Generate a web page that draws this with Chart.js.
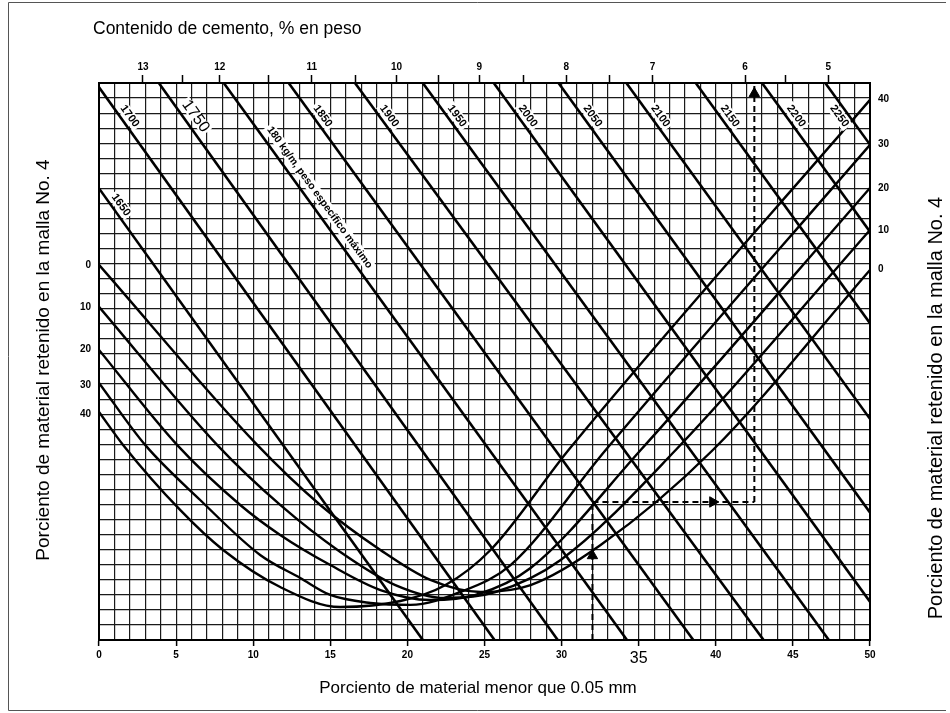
<!DOCTYPE html>
<html><head><meta charset="utf-8">
<script src="https://cdn.jsdelivr.net/npm/chart.js@4/dist/chart.umd.min.js"></script>
<style>
html,body{margin:0;padding:0;background:#fff;}
canvas{display:block;}
</style></head><body>
<canvas id="c" width="950" height="713"></canvas>
<script>
// ---------------- DATA ----------------
const xTickValues = [0,5,10,15,20,25,30,35,40,45,50];
const xTickLabels = ['0','5','10','15','20','25','30','35','40','45','50'];

const cementLabels    = ['13','12','11','10','9','8','7','6','5'];
const cementPositions = [2.85,7.83,13.8,19.3,24.66,30.3,35.9,41.9,47.3];
const cementMinorTicks = [5.44,11.0,16.63,22.0,27.5,33.1,44.5];

const retainedLabels = ['0','10','20','30','40'];
const retainedLeftY  = [24.9,22.1,19.3,16.9,15.0];
const retainedRightY = [24.6,27.2,30.0,32.9,35.9];

const densityLabels  = ['1650','1700','1750','180 kg/m, peso específico máximo','1850','1900','1950','2000','2050','2100','2150','2200','2250'];
const densityTopX    = [-4.9,-0.2,3.88,8.09,12.3,16.6,21.0,25.6,29.8,34.2,38.7,43.0,47.1];
const densityBottomX = [21.0,25.65,29.75,34.24,38.54,43.1,47.33,51.8,56.0,60.4,64.9,69.2,73.3];

const curveRet0  = [[0,24.92],[10.26,12.96],[14.35,8.97],[18.25,5.98],[21.49,3.99],[24.74,3.19],[27.99,3.65],[32.53,6.31],[39.81,12.62],[50,24.58]];
const curveRet10 = [[0,22.13],[7.66,12.96],[11.75,8.97],[15.65,5.85],[19.22,3.65],[22.47,2.79],[25.71,3.19],[29.94,5.32],[37.40,12.62],[50,27.24]];
const curveRet20 = [[0,19.27],[5.06,12.96],[9.16,8.97],[11.75,6.98],[15.0,4.98],[18.25,3.32],[21.49,2.66],[24.42,2.99],[27.99,4.78],[35.13,12.62],[50,30.03]];
const curveRet30 = [[0,17.08],[2.99,12.96],[6.56,9.30],[10.45,5.65],[13.05,4.12],[15.0,2.99],[17.6,2.46],[20.2,2.33],[23.44,3.19],[26.69,4.98],[32.86,12.62],[50,32.89]];
const curveRet40 = [[0,15.15],[1.56,12.96],[5.26,8.64],[8.05,5.98],[11.75,3.52],[15.65,2.19],[19.55,2.59],[22.47,3.65],[25.39,5.98],[30.45,12.62],[50,35.88]];

// example reading path (dashed with arrows)
const exampleUp    = [[32.0,0],[32.0,9.17]];
const exampleRight = [[32.0,9.17],[42.5,9.17]];
const exampleTop   = [[42.5,9.17],[42.5,37]];
const arrowUpPts   = [[32.0,5.6],[42.5,36.3]];
const arrowRightPts= [[39.8,9.17]];

const Y_MAX = 37;

// ---------------- BUILD ----------------
const toXY = a => a.map(p => ({x:p[0], y:p[1]}));
const datasets = [];
densityTopX.forEach((t,i) => {
  datasets.push({data:[{x:t,y:Y_MAX},{x:densityBottomX[i],y:0}], borderColor:'#000', borderWidth:2.6, pointRadius:0, showLine:true, yAxisID:'yg', xAxisID:'x'});
});
[curveRet0,curveRet10,curveRet20,curveRet30,curveRet40].forEach(c => {
  datasets.push({data:toXY(c), borderColor:'#000', borderWidth:2.4, pointRadius:0, showLine:true, cubicInterpolationMode:'monotone', yAxisID:'yg', xAxisID:'x'});
});
[exampleUp,exampleRight,exampleTop].forEach(c => {
  datasets.push({data:toXY(c), borderColor:'#000', borderWidth:2, borderDash:[6,4], pointRadius:0, showLine:true, yAxisID:'yg', xAxisID:'x'});
});
datasets.push({data:toXY(arrowUpPts), showLine:false, pointStyle:'triangle', pointRadius:6, pointRotation:0, backgroundColor:'#000', borderColor:'#000', yAxisID:'yg', xAxisID:'x'});
datasets.push({data:toXY(arrowRightPts), showLine:false, pointStyle:'triangle', pointRadius:6, pointRotation:90, backgroundColor:'#000', borderColor:'#000', yAxisID:'yg', xAxisID:'x'});

const FONT = "'Liberation Sans', Arial, sans-serif";

const decor = {
  id:'decor',
  afterDatasetsDraw(chart){
    const ctx = chart.ctx, xs = chart.scales.x, ys = chart.scales.yg;
    densityLabels.forEach((lab,i) => {
      let yv = 34.8, off = 10, font = 'bold 11px ' + FONT;
      if (i === 0) { yv = 28.9; }
      if (i === 2) { font = '16px ' + FONT; off = 13; }
      if (i === 3) { yv = 29.4; off = 13; font = 'bold 10.5px ' + FONT; }
      if (i === 12) { off = -10; }
      const t = densityTopX[i], b = densityBottomX[i];
      const xv = t + (Y_MAX - yv) * (b - t) / Y_MAX;
      const px = xs.getPixelForValue(xv) + off, py = ys.getPixelForValue(yv);
      const ang = Math.atan2(ys.getPixelForValue(0) - ys.getPixelForValue(Y_MAX), xs.getPixelForValue(b) - xs.getPixelForValue(t));
      ctx.save();
      ctx.translate(px, py); ctx.rotate(ang);
      ctx.font = font; ctx.textAlign = 'center'; ctx.textBaseline = 'middle';
      const w = ctx.measureText(lab).width;
      ctx.fillStyle = '#fff'; ctx.fillRect(-w/2 - 2, -6, w + 4, 12);
      ctx.fillStyle = '#000';
      ctx.fillText(lab, 0, 0);
      ctx.restore();
    });
  },
  afterDraw(chart){
    const ctx = chart.ctx;
    ctx.save();
    ctx.fillStyle = '#000';
    ctx.textBaseline = 'middle';
    ctx.textAlign = 'left';
    ctx.font = '17.5px ' + FONT;
    ctx.fillText('Contenido de cemento, % en peso', 93, 29);
    ctx.textAlign = 'center';
    ctx.font = '17px ' + FONT;
    ctx.fillText('Porciento de material menor que 0.05 mm', 478, 688);
    ctx.font = '19px ' + FONT;
    ctx.save(); ctx.translate(44, 360); ctx.rotate(-Math.PI/2);
    ctx.fillText('Porciento de material retenido en la malla No. 4', 0, 0);
    ctx.restore();
    ctx.font = '20px ' + FONT;
    ctx.save(); ctx.translate(936, 408); ctx.rotate(-Math.PI/2);
    ctx.fillText('Porciento de material retenido en la malla No. 4', 0, 0);
    ctx.restore();
    // outer frame (left, top, bottom)
    ctx.strokeStyle = '#555'; ctx.lineWidth = 1;
    ctx.beginPath();
    ctx.moveTo(946, 2.5); ctx.lineTo(8.5, 2.5); ctx.lineTo(8.5, 710.5); ctx.lineTo(946, 710.5);
    ctx.stroke();
    ctx.restore();
  }
};

const whiteBg = {
  id:'whiteBg',
  beforeDraw(chart){ const c = chart.ctx; c.save(); c.fillStyle='#fff'; c.fillRect(0,0,chart.width,chart.height); c.restore(); }
};

const gridColor = '#1a1a1a';

new Chart(document.getElementById('c'), {
  type:'scatter',
  data:{datasets},
  plugins:[whiteBg, decor],
  options:{
    responsive:false, animation:false, devicePixelRatio:1,
    layout:{padding:0},
    plugins:{legend:{display:false}, tooltip:{enabled:false}},
    scales:{
      x:{
        type:'linear', position:'bottom', min:0, max:50,
        afterFit(s){ s.height = 73; },
        ticks:{ stepSize:1, autoSkip:false, maxRotation:0, padding:3, color:'#000',
          callback(v){ const i = xTickValues.indexOf(v); return i >= 0 ? xTickLabels[i] : ''; },
          font(ctx){ return (ctx.tick && ctx.tick.value === 35) ? {family:FONT, size:16} : {family:FONT, size:10, weight:'bold'}; }
        },
        grid:{ color:gridColor, lineWidth:1.2, drawTicks:true, tickLength:6, tickWidth:1.5,
          tickColor(ctx){ return (ctx.tick && xTickValues.indexOf(ctx.tick.value) >= 0) ? '#000' : 'rgba(0,0,0,0)'; } },
        border:{display:true, color:'#000', width:2}
      },
      x2:{
        type:'linear', position:'top', min:0, max:50,
        afterFit(s){ s.height = 83; },
        afterBuildTicks(s){
          const t = cementPositions.map(v => ({value:v})).concat(cementMinorTicks.map(v => ({value:v})));
          t.sort((a,b) => a.value - b.value);
          s.ticks = t;
        },
        ticks:{ autoSkip:false, maxRotation:0, padding:2, color:'#000', font:{family:FONT, size:10, weight:'bold'},
          callback(v){ const i = cementPositions.indexOf(v); return i >= 0 ? cementLabels[i] : ''; } },
        grid:{ drawOnChartArea:false, drawTicks:true, tickLength:8, tickColor:'#000', tickWidth:1.5 },
        border:{display:true, color:'#000', width:2}
      },
      yg:{
        type:'linear', position:'left', min:0, max:Y_MAX, weight:1,
        afterFit(s){ s.width = 0; },
        ticks:{ display:false, stepSize:1 },
        grid:{ color:gridColor, lineWidth:1.2, drawTicks:false },
        border:{display:false}
      },
      yl:{
        type:'linear', position:'left', min:0, max:Y_MAX, weight:2,
        afterFit(s){ s.width = 99; },
        afterBuildTicks(s){ s.ticks = retainedLeftY.map(v => ({value:v})); },
        ticks:{ autoSkip:false, padding:8, color:'#000', font:{family:FONT, size:10, weight:'bold'},
          callback(v){ const i = retainedLeftY.indexOf(v); return i >= 0 ? retainedLabels[i] : ''; } },
        grid:{ drawOnChartArea:false, drawTicks:false },
        border:{display:true, color:'#000', width:2}
      },
      yr:{
        type:'linear', position:'right', min:0, max:Y_MAX,
        afterFit(s){ s.width = 80; },
        afterBuildTicks(s){ s.ticks = retainedRightY.map(v => ({value:v})); },
        ticks:{ autoSkip:false, padding:8, color:'#000', font:{family:FONT, size:10, weight:'bold'},
          callback(v){ const i = retainedRightY.indexOf(v); return i >= 0 ? retainedLabels[i] : ''; } },
        grid:{ drawOnChartArea:false, drawTicks:false },
        border:{display:true, color:'#000', width:2}
      }
    }
  }
});
</script>
</body></html>
